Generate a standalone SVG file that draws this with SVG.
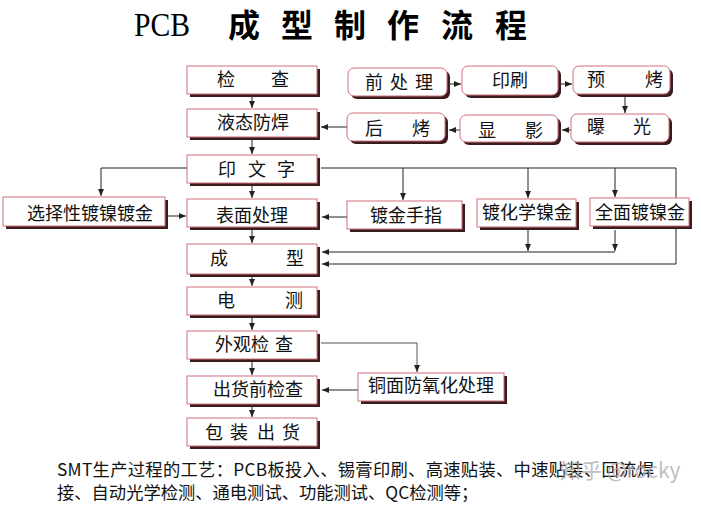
<svg xmlns="http://www.w3.org/2000/svg" width="701" height="505" viewBox="0 0 701 505">
<defs>
<style>
.sh{fill:#3a1c1c}
.bx{fill:#ffffff;stroke:#d0707c;stroke-width:1}
.t{font-family:"Noto Sans CJK SC","Noto Sans",sans-serif;font-size:18px;fill:#111}
.ln{fill:none;stroke:#222;stroke-width:1}
.lg{fill:none;stroke:#555;stroke-width:1}
.ttl{font-family:"Noto Sans CJK SC",sans-serif;font-size:32px;font-weight:700;fill:#000}
.pcb{font-family:"Liberation Serif",serif;font-size:34px;fill:#000}
.note{font-family:"Noto Sans CJK SC","Liberation Serif",serif;font-size:17.3px;fill:#111}
.wm{font-family:"Noto Sans CJK SC","Liberation Sans",sans-serif;font-size:21px;fill:#aaa;opacity:0.75}
</style>
<marker id="ar" markerWidth="7" markerHeight="6" refX="7" refY="3" orient="auto" markerUnits="userSpaceOnUse">
<path d="M0,0 L7,3 L0,6 Z" fill="#222"/>
</marker>
</defs>
<rect width="701" height="505" fill="#fff"/>

<g id="title">
<text class="pcb" x="134" y="36" textLength="56" lengthAdjust="spacingAndGlyphs">PCB</text>
<text class="ttl" x="228 281 334 387 441 495" y="37">成型制作流程</text>
</g>

<g id="connectors">
<path class="ln" d="M252,97 V108" marker-end="url(#ar)"/>
<path class="ln" d="M252,140 V154" marker-end="url(#ar)"/>
<path class="ln" d="M252,186 V198" marker-end="url(#ar)"/>
<path class="ln" d="M252,230 V243" marker-end="url(#ar)"/>
<path class="ln" d="M252,277 V286" marker-end="url(#ar)"/>
<path class="ln" d="M252,318 V330" marker-end="url(#ar)"/>
<path class="ln" d="M252,362 V375" marker-end="url(#ar)"/>
<path class="ln" d="M252,407 V417" marker-end="url(#ar)"/>
<path class="ln" d="M450,84 H461" marker-end="url(#ar)"/>
<path class="ln" d="M561,84 H572" marker-end="url(#ar)"/>
<path class="ln" d="M625,97 V113" marker-end="url(#ar)"/>
<path class="ln" d="M571,130 H562" marker-end="url(#ar)"/>
<path class="ln" d="M460,130 H449" marker-end="url(#ar)"/>
<path class="ln" d="M347,127 H321" marker-end="url(#ar)"/>
<path class="ln" d="M187,168 H101 V196" marker-end="url(#ar)"/>
<path class="ln" d="M168,216 H186" marker-end="url(#ar)"/>
<path class="ln" d="M321,168 H676 V264 H322" marker-end="url(#ar)"/>
<path class="ln" d="M403,168 V200" marker-end="url(#ar)"/>
<path class="ln" d="M528,168 V198" marker-end="url(#ar)"/>
<path class="ln" d="M615,168 V197" marker-end="url(#ar)"/>
<path class="ln" d="M347,217 H322" marker-end="url(#ar)"/>
<path class="ln" d="M528,230 V251" marker-end="url(#ar)"/>
<path class="ln" d="M615,230 V251" marker-end="url(#ar)"/>
<path class="ln" d="M615,252 H322" marker-end="url(#ar)"/>
<path class="lg" d="M321,343 H417 V372" marker-end="url(#ar)"/>
<path class="ln" d="M358,390 H322" marker-end="url(#ar)"/>
</g>

<g id="n-jiancha"><rect class="sh" x="190" y="69" width="130" height="28"/><rect class="bx" x="187" y="66" width="130" height="28"/><text class="t" x="217" y="86">检　　查</text></g>
<g id="n-yetai"><rect class="sh" x="190" y="112" width="130" height="28"/><rect class="bx" x="187" y="109" width="130" height="28"/><text class="t" x="217" y="129">液态防焊</text></g>
<g id="n-yinwenzi"><rect class="sh" x="190" y="158" width="130" height="28"/><rect class="bx" x="187" y="155" width="130" height="28"/><text class="t" x="218 236 248 266 277" y="176">印 文 字</text></g>
<g id="n-biaomian"><rect class="sh" x="190" y="202" width="130" height="28"/><rect class="bx" x="187" y="199" width="130" height="28"/><text class="t" x="216" y="222">表面处理</text></g>
<g id="n-chengxing"><rect class="sh" x="190" y="247" width="130" height="30"/><rect class="bx" x="187" y="244" width="130" height="30"/><text class="t" x="210 228 286" y="265">成 型</text></g>
<g id="n-dianche"><rect class="sh" x="190" y="290" width="130" height="28"/><rect class="bx" x="187" y="287" width="130" height="28"/><text class="t" x="217 235 285" y="307">电 测</text></g>
<g id="n-waiguan"><rect class="sh" x="190" y="334" width="130" height="28"/><rect class="bx" x="187" y="331" width="130" height="28"/><text class="t" x="215 233 251 269 275" y="351">外观检 查</text></g>
<g id="n-chuhuoqian"><rect class="sh" x="190" y="379" width="130" height="28"/><rect class="bx" x="187" y="376" width="130" height="28"/><text class="t" x="213" y="396">出货前检查</text></g>
<g id="n-baozhuang"><rect class="sh" x="190" y="421" width="130" height="28"/><rect class="bx" x="187" y="418" width="130" height="28"/><text class="t" x="205 223 230 248 257 275 282" y="439">包 装 出 货</text></g>

<g id="n-qianchuli"><rect class="sh" x="351" y="71" width="99" height="28" rx="6"/><rect class="bx" x="348" y="68" width="99" height="28" rx="6"/><text class="t" x="365 383 390 408 415" y="89">前 处 理</text></g>
<g id="n-yinshua"><rect class="sh" x="465" y="69" width="96" height="29" rx="6"/><rect class="bx" x="462" y="66" width="96" height="29" rx="6"/><text class="t" x="492" y="87">印刷</text></g>
<g id="n-yukao"><rect class="sh" x="576" y="69" width="97" height="28" rx="6"/><rect class="bx" x="573" y="66" width="97" height="28" rx="6"/><text class="t" x="587 605 645" y="86">预 烤</text></g>
<g id="n-baoguang"><rect class="sh" x="574" y="117" width="98" height="28" rx="6"/><rect class="bx" x="571" y="114" width="98" height="28" rx="6"/><text class="t" x="587 605 633" y="133">曝 光</text></g>
<g id="n-xianying"><rect class="sh" x="463" y="118" width="98" height="27" rx="6"/><rect class="bx" x="460" y="115" width="98" height="27" rx="6"/><text class="t" x="478 496 525" y="137">显 影</text></g>
<g id="n-houkao"><rect class="sh" x="350" y="116" width="98" height="28" rx="6"/><rect class="bx" x="347" y="113" width="98" height="28" rx="6"/><text class="t" x="365 383 412" y="135">后 烤</text></g>

<g id="n-xuanze"><rect class="sh" x="6" y="200" width="162" height="29"/><rect class="bx" x="3" y="197" width="162" height="29"/><text class="t" x="27" y="220">选择性镀镍镀金</text></g>
<g id="n-dujin"><rect class="sh" x="350" y="204" width="115" height="28"/><rect class="bx" x="347" y="201" width="115" height="28"/><text class="t" x="370" y="222">镀金手指</text></g>
<g id="n-huaxue"><rect class="sh" x="480" y="202" width="99" height="28"/><rect class="bx" x="477" y="199" width="99" height="28"/><text class="t" x="482" y="219">镀化学镍金</text></g>
<g id="n-quanmian"><rect class="sh" x="593" y="201" width="99" height="28"/><rect class="bx" x="590" y="198" width="99" height="28"/><text class="t" x="595" y="219">全面镀镍金</text></g>
<g id="n-tongmian"><rect class="sh" x="361" y="376" width="146" height="28"/><rect class="bx" x="358" y="373" width="146" height="28"/><text class="t" x="368" y="392">铜面防氧化处理</text></g>

<g id="note">
<text class="note" x="57" y="476" textLength="597" lengthAdjust="spacing">SMT生产过程的工艺：PCB板投入、锡膏印刷、高速贴装、中速贴装、回流焊</text>
<text class="note" x="57" y="499">接、自动光学检测、通电测试、功能测试、QC检测等；</text>
<text class="wm" x="560" y="478">知乎 @rocky</text>
</g>
</svg>
